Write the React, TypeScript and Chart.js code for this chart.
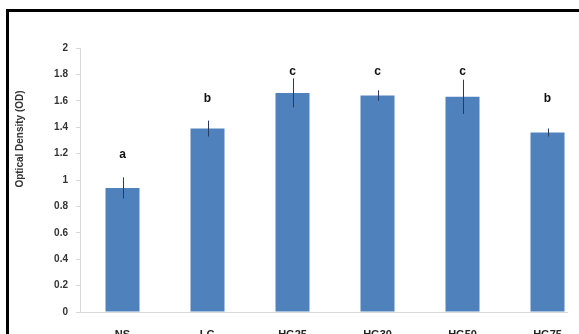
import React, { useEffect, useRef } from "react";
import { Chart, registerables } from "chart.js";

Chart.register(...registerables);

const categories = ["NS", "LG", "HG25", "HG30", "HG50", "HG75"];
const means = [0.94, 1.39, 1.66, 1.64, 1.63, 1.36];
const errors = [0.08, 0.06, 0.11, 0.04, 0.13, 0.03];
const letters = ["a", "b", "c", "c", "c", "b"];
const letterLevels = [1.17, 1.59, 1.795, 1.795, 1.795, 1.59];
const yMin = 0;
const yMax = 2;
const yStep = 0.2;
const yTitle = "Optical Density (OD)";

const FONT = "'Liberation Sans', Arial, sans-serif";

const extrasPlugin = {
  id: "extras",
  afterDatasetsDraw(chart: any) {
    const ctx = chart.ctx;
    const x = chart.scales.x;
    const y = chart.scales.y;
    ctx.save();
    ctx.strokeStyle = "#2a3a5c";
    ctx.lineWidth = 1;
    means.forEach((m, i) => {
      const cx = Math.round(x.getPixelForValue(i)) + 0.5;
      const top = y.getPixelForValue(m + errors[i]);
      const bot = y.getPixelForValue(m - errors[i]);
      ctx.beginPath();
      ctx.moveTo(cx, top);
      ctx.lineTo(cx, bot);
      ctx.stroke();
    });
    ctx.fillStyle = "#111111";
    ctx.font = `bold 12px ${FONT}`;
    ctx.textAlign = "center";
    ctx.textBaseline = "alphabetic";
    letters.forEach((l, i) => {
      ctx.fillText(l, x.getPixelForValue(i), y.getPixelForValue(letterLevels[i]));
    });
    ctx.translate(20, 139);
    ctx.rotate(-Math.PI / 2);
    ctx.font = `bold 10px ${FONT}`;
    ctx.textBaseline = "middle";
    ctx.fillStyle = "#333333";
    ctx.fillText(yTitle, 0, 0);
    ctx.restore();
  },
};

export default function App() {
  const ref = useRef<HTMLCanvasElement | null>(null);
  useEffect(() => {
    if (!ref.current) return;
    const chart = new Chart(ref.current, {
      type: "bar",
      data: {
        labels: categories,
        datasets: [
          {
            data: means,
            backgroundColor: "#4f81bd",
            borderWidth: 0,
            barPercentage: 0.4,
            categoryPercentage: 1,
          },
        ],
      },
      options: {
        responsive: false,
        animation: false,
        devicePixelRatio: 1,
        layout: { padding: { left: 0, right: 10, top: 48, bottom: 0 } },
        plugins: { legend: { display: false }, tooltip: { enabled: false } },
        scales: {
          x: {
            grid: { display: false, drawTicks: false },
            border: { display: true, color: "#d9d9d9", width: 1 },
            ticks: {
              color: "#222222",
              padding: 16,
              font: { family: FONT, size: 11, weight: "bold" },
              maxRotation: 0,
            },
            afterFit(scale: any) {
              scale.height = 33;
            },
          },
          y: {
            min: yMin,
            max: yMax,
            grid: {
              display: true,
              drawOnChartArea: false,
              drawTicks: true,
              tickLength: 4,
              color: "#d9d9d9",
            },
            border: { display: true, color: "#d9d9d9", width: 1 },
            ticks: {
              stepSize: yStep,
              padding: 8,
              color: "#333333",
              font: { family: FONT, size: 10, weight: "bold" },
              callback: (v: any) => String(Math.round(Number(v) * 10) / 10),
            },
            afterFit(scale: any) {
              scale.width = 80;
            },
          },
        },
      },
      plugins: [extrasPlugin],
    });
    return () => chart.destroy();
  }, []);
  return (
    <div
      style={{
        position: "fixed",
        left: 0,
        top: 0,
        width: 579,
        height: 334,
        overflow: "hidden",
        background: "#fff",
      }}
    >
      <canvas
        ref={ref}
        width={600}
        height={345}
        style={{ display: "block", position: "absolute", left: 0, top: 0 }}
      />
      <div
        style={{
          position: "absolute",
          left: 568,
          top: 12,
          width: 40,
          height: 400,
          background: "#fff",
        }}
      />
      <div
        style={{
          position: "absolute",
          left: 6,
          top: 9,
          width: 700,
          height: 400,
          borderLeft: "3px solid #000",
          borderTop: "3px solid #000",
          pointerEvents: "none",
        }}
      />
    </div>
  );
}
